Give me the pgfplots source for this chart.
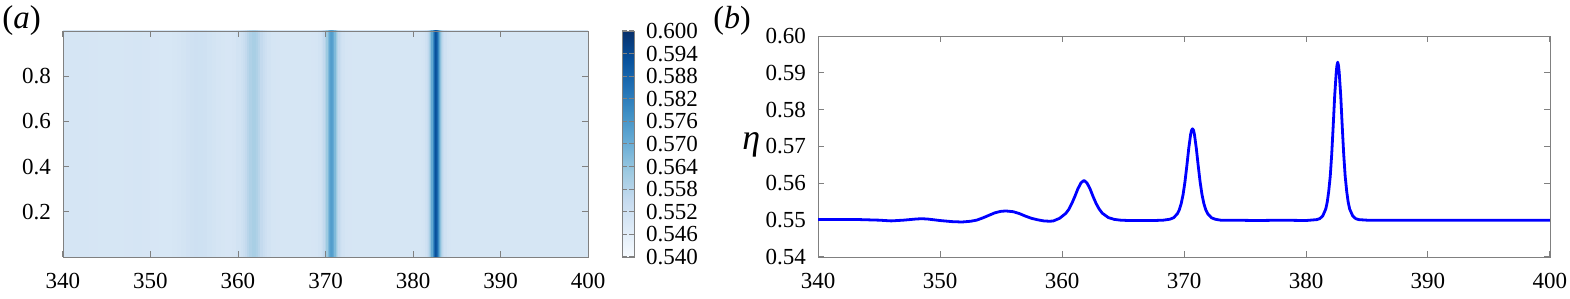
\documentclass[border=0pt]{standalone}
\usepackage{fontspec}
\setmainfont{Liberation Serif}
\usepackage{pgfplots}
\pgfplotsset{compat=1.18}
\usepackage{pgfplotstable}

% free surface profile eta(x)
\pgfplotstableread{
x eta
340 0.5502
341 0.5502
342 0.5502
343 0.5502
344 0.5501
345 0.5500
346 0.5498
347 0.5500
348 0.5503
348.5 0.5504
349 0.5503
350 0.5499
351 0.5496
351.8 0.5495
352.5 0.5497
353 0.5500
353.5 0.5506
354 0.5513
354.5 0.5520
355 0.5524
355.4 0.5525
356 0.5523
356.5 0.5518
357 0.5511
357.5 0.5505
358 0.5501
358.5 0.5498
359 0.5497
359.3 0.5498
359.8 0.5505
360.3 0.5518
360.55 0.5529
360.8 0.5545
361.05 0.5564
361.3 0.5585
361.55 0.5601
361.8 0.5608
362.05 0.5601
362.3 0.5585
362.55 0.5564
362.8 0.5545
363.05 0.5530
363.3 0.5519
363.8 0.5507
364.3 0.5502
364.8 0.5500
365.5 0.5499
366.5 0.5499
367.5 0.5499
368.3 0.5500
368.84 0.55025
369.15 0.55066
369.46 0.55175
369.615 0.55282
369.77 0.55448
369.925 0.55695
370.08 0.56042
370.235 0.56480
370.39 0.56951
370.545 0.57331
370.62 0.57440
370.70 0.57480
370.78 0.57440
370.855 0.57331
371.01 0.56951
371.165 0.56480
371.32 0.56042
371.475 0.55695
371.63 0.55448
371.785 0.55282
371.94 0.55175
372.25 0.55066
372.56 0.55025
373 0.5500
374 0.5500
376 0.5499
378 0.5500
380 0.5499
380.88 0.55015
381.13 0.55042
381.37 0.55114
381.62 0.55303
381.74 0.55487
381.86 0.55773
381.99 0.56200
382.11 0.56798
382.23 0.57553
382.35 0.58366
382.48 0.59023
382.54 0.59210
382.60 0.59290
382.66 0.59210
382.72 0.59023
382.85 0.58366
382.97 0.57553
383.09 0.56798
383.21 0.56200
383.34 0.55773
383.46 0.55487
383.58 0.55303
383.83 0.55114
384.07 0.55042
384.32 0.55015
385 0.5500
390 0.5500
395 0.5500
400 0.5500
}\etadata

\newcommand{\tickfont}{\fontsize{11.5}{11.5}\selectfont}

\pgfplotsset{
  panel/.style={
    scale only axis,
    axis line style={black!50},
    tick style={black!50, line width=0.5pt},
    tick align=inside,
    major tick length=3pt,
    xmin=340, xmax=400,
    xtick={340,350,...,400},
    ticklabel style={font=\tickfont},
    xticklabel style={yshift=-4.5pt},
    yticklabel style={xshift=-2.5pt},
    scaled ticks=false,
    /pgf/number format/assume math mode=true,
  },
}

\begin{document}
\begin{tikzpicture}
\path[use as bounding box] (0,0) rectangle (785pt,149.5pt);

% (a) heat map, the profile is the same for every y
\begin{axis}[
  panel,
  at={(31.5pt,21pt)}, anchor=south west,
  width=262.5pt, height=113pt,
  ymin=0, ymax=1,
  ytick={0.2,0.4,0.6,0.8},
  yticklabel style={/pgf/number format/.cd, fixed, precision=1},
  axis on top,
  colormap={blues}{rgb255=(247,251,255) rgb255=(222,235,247) rgb255=(198,219,239)
    rgb255=(158,202,225) rgb255=(107,174,214) rgb255=(66,146,198)
    rgb255=(33,113,181) rgb255=(8,81,156) rgb255=(8,48,107)},
  point meta min=0.54, point meta max=0.6,
  colorbar,
  colorbar style={
    width=6pt,
    at={(parent axis.north east)}, anchor=north west, xshift=8.5pt,
    axis line style={black!50},
    tick style={black!50, line width=0.5pt},
    tick align=inside,
    major tick length=2.5pt,
    ytick={0.540,0.546,0.552,0.558,0.564,0.570,0.576,0.582,0.588,0.594,0.600},
    scaled y ticks=false,
    yticklabel style={font=\tickfont, xshift=2.5pt,
      /pgf/number format/.cd, fixed, fixed zerofill, precision=3, assume math mode=true},
  },
]
\addplot[mesh, shader=flat mean, line width=120pt, point meta=explicit]
  table[x=x, y expr=0.5, meta=eta] {\etadata};
\end{axis}

% (b) profile
\begin{axis}[
  panel,
  at={(409pt,21pt)}, anchor=south west,
  width=366pt, height=110.5pt,
  ymin=0.54, ymax=0.60,
  ytick={0.54,0.55,...,0.60},
  yticklabel style={/pgf/number format/.cd, fixed, fixed zerofill, precision=2},
]
\addplot[blue, line width=1.4pt, line join=round, mark=none] table[x=x, y=eta] {\etadata};
\end{axis}

\node[anchor=base west, inner sep=0, font=\fontsize{16.5}{16.5}\selectfont] at (1pt,135pt) {(\textit{a})};
\node[anchor=base west, inner sep=0, font=\fontsize{16}{16}\selectfont] at (356.5pt,135pt) {(\textit{b})};
\node[anchor=base west, inner sep=0, font=\fontsize{18}{18}\selectfont] at (371pt,74.5pt) {\textit{η}};
\end{tikzpicture}
\end{document}
